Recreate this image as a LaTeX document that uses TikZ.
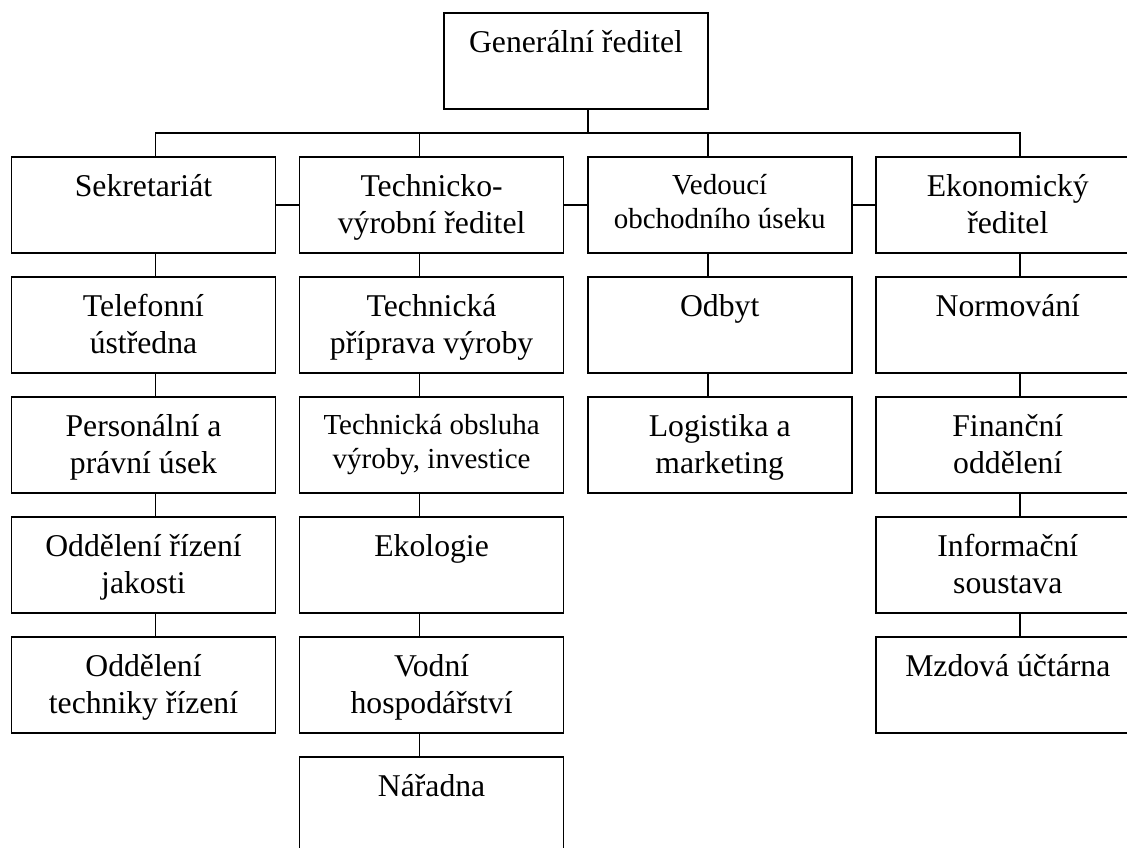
\documentclass[tikz,border=0pt]{standalone}
\usepackage{fontspec}
\setmainfont{Liberation Serif}
\tikzset{
  box/.style={draw, line width=1.6pt, minimum width=264pt, minimum height=96pt,
    inner sep=0pt, outer sep=0pt, anchor=north west},
  txt/.style={anchor=north, inner sep=0pt, align=center,
    font=\fontsize{31.7}{37}\selectfont\def\firsth{30pt}},
  txts/.style={anchor=north, inner sep=0pt, align=center,
    font=\fontsize{29}{34}\selectfont\def\firsth{28pt}},
  link/.style={line width=1.6pt},
}
\newcommand\orgbox[5][txt]{%
  \node[box] (#2) at (#3,#4) {};
  \node[#1] (#2-t) at ([yshift=-10pt]#2.north) {\rule{0pt}{\firsth}#5};
}
\begin{document}
\begin{tikzpicture}[x=1pt, y=-1pt]
\useasboundingbox (0,0) rectangle (1127,847);
% top
\orgbox{gen}{444}{12.7}{Generální ředitel}
% row 1
\orgbox{sek}{11.5}{156.7}{Sekretariát}
\orgbox{tvr}{299.6}{156.7}{Technicko-\\výrobní ředitel}
\orgbox[txts]{ved}{587.7}{156.7}{Vedoucí\\obchodního úseku}
\orgbox{eko}{875.8}{156.7}{Ekonomický\\ředitel}
% column 1
\orgbox{tel}{11.5}{276.7}{Telefonní\\ústředna}
\orgbox{per}{11.5}{396.7}{Personální a\\právní úsek}
\orgbox{ojak}{11.5}{516.7}{Oddělení řízení\\jakosti}
\orgbox{otech}{11.5}{636.7}{Oddělení\\techniky řízení}
% column 2
\orgbox{tpv}{299.6}{276.7}{Technická\\příprava výroby}
\orgbox[txts]{tov}{299.6}{396.7}{Technická obsluha\\výroby, investice}
\orgbox{ekol}{299.6}{516.7}{Ekologie}
\orgbox{vod}{299.6}{636.7}{Vodní\\hospodářství}
\orgbox{nar}{299.6}{756.7}{Nářadna}
% column 3
\orgbox{odb}{587.7}{276.7}{Odbyt}
\orgbox{log}{587.7}{396.7}{Logistika a\\marketing}
% column 4
\orgbox{nor}{875.8}{276.7}{Normování}
\orgbox{fin}{875.8}{396.7}{Finanční\\oddělení}
\orgbox{inf}{875.8}{516.7}{Informační\\soustava}
\orgbox{mzd}{875.8}{636.7}{Mzdová účtárna}
% connectors
\draw[link] ([xshift=12pt]gen.south) -- ++(0,24);
\draw[link] ([xshift=12pt]sek.north) -- ++(0,-24) -| ([xshift=12pt]eko.north);
\draw[link] ([xshift=-12pt]tvr.north) -- ++(0,-24);
\draw[link] ([xshift=-12pt]ved.north) -- ++(0,-24);
\draw[link] (sek.east) -- (tvr.west);
\draw[link] (tvr.east) -- (ved.west);
\draw[link] (ved.east) -- (eko.west);
\foreach \a/\b in {sek/tel, tel/per, per/ojak, ojak/otech, eko/nor, nor/fin, fin/inf, inf/mzd}
  \draw[link] ([xshift=12pt]\a.south) -- ([xshift=12pt]\b.north);
\foreach \a/\b in {tvr/tpv, tpv/tov, tov/ekol, ekol/vod, vod/nar, ved/odb, odb/log}
  \draw[link] ([xshift=-12pt]\a.south) -- ([xshift=-12pt]\b.north);
\end{tikzpicture}
\end{document}
